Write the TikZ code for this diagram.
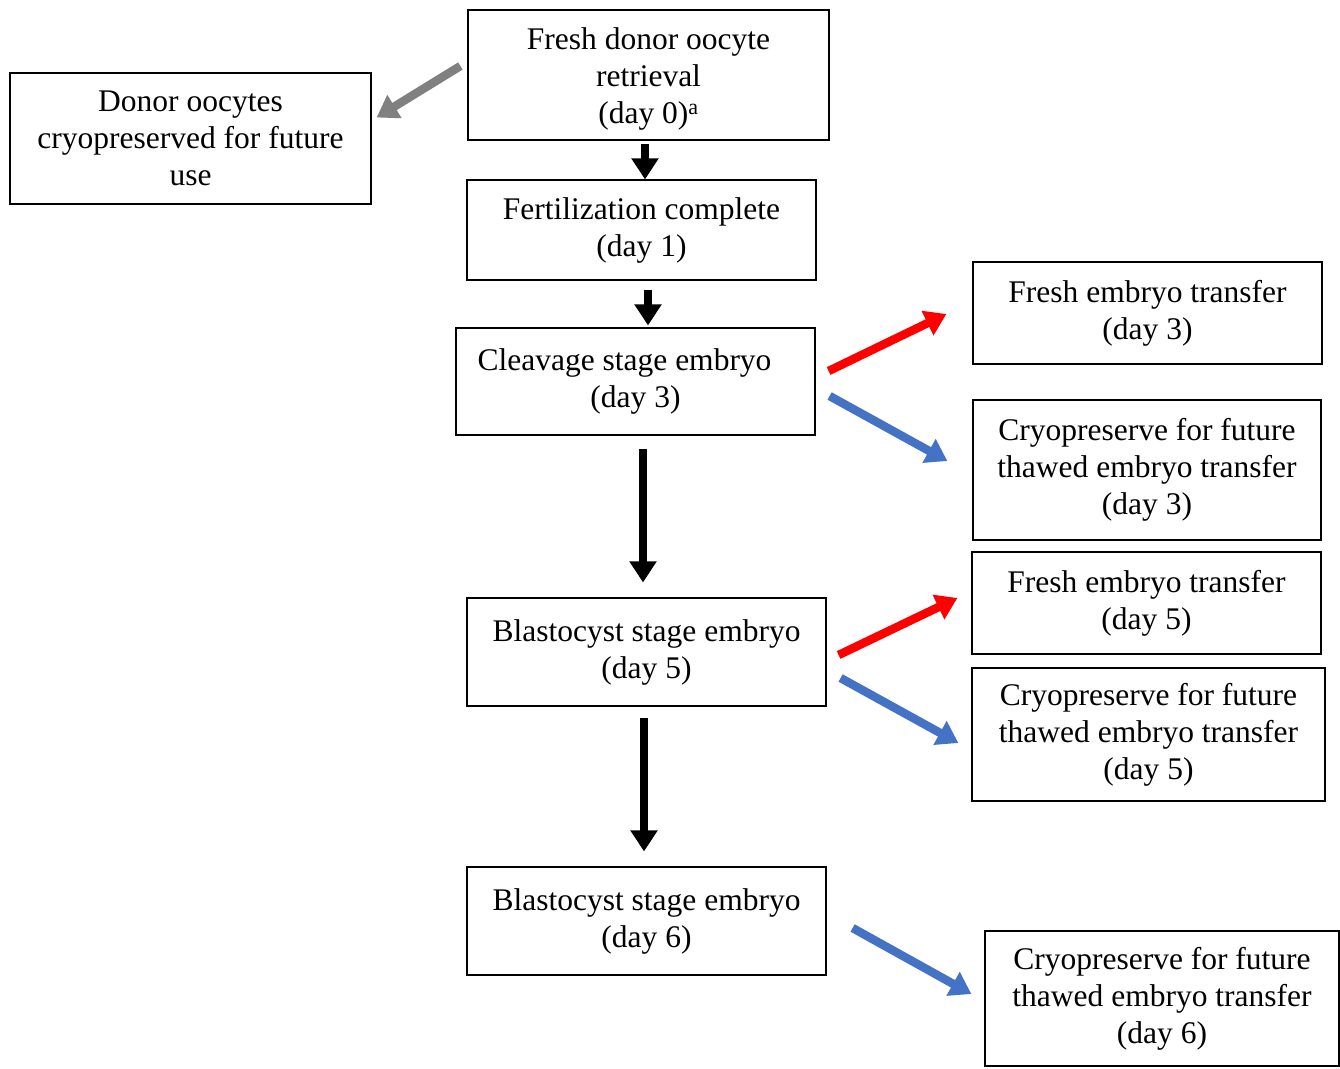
\documentclass[tikz,border=0pt]{standalone}
\usepackage{fontspec}
\setmainfont{Liberation Serif}
\usepackage{tikz}
\usetikzlibrary{arrows.meta}
\definecolor{officeblue}{RGB}{68,114,196}
\definecolor{arrowgray}{RGB}{128,128,128}
\tikzstyle{block} = [rectangle, draw, line width=1.2pt, inner sep=0pt,
    align=center, font=\fontsize{31.5}{37}\selectfont]
\tikzstyle{line} = [draw, line width=8.5pt,
    -{Triangle[length=21pt,width=26pt]}]
\tikzstyle{lineblack} = [line, black]
\tikzstyle{linered} = [line, red]
\tikzstyle{lineblue} = [line, officeblue]
\tikzstyle{linegray} = [line, arrowgray]

\begin{document}
\begin{tikzpicture}[x=1pt, y=-1pt]
    \useasboundingbox (0,0) rectangle (1340,1068);
    % Place nodes
    \node [block, minimum width=361, minimum height=130] (retrieval) at (648.5,75)
    {\rule{0pt}{30pt}Fresh donor oocyte\\retrieval\\(day 0)\textsuperscript{a}};
    \node [block, minimum width=361, minimum height=131] (oocytes) at (190.5,138.5)
    {Donor oocytes\\cryopreserved for future\\use};
    \node [block, minimum width=349, minimum height=100] (fert) at (641.5,230)
    {Fertilization complete\\(day 1)};
    \node [block, minimum width=359, minimum height=107] (cleav) at (635.5,381.5)
    {Cleavage stage embryo\hspace*{22pt}\\(day 3)};
    \node [block, minimum width=349, minimum height=102] (freshthree) at (1147.5,313)
    {Fresh embryo transfer\\(day 3)};
    \node [block, minimum width=348, minimum height=140] (cryothree) at (1147,470)
    {Cryopreserve for future\\thawed embryo transfer\\(day 3)};
    \node [block, minimum width=359, minimum height=108] (blastfive) at (646.5,652)
    {Blastocyst stage embryo\\(day 5)};
    \node [block, minimum width=349, minimum height=102] (freshfive) at (1146.5,603)
    {Fresh embryo transfer\\(day 5)};
    \node [block, minimum width=353, minimum height=133] (cryofive) at (1148.5,734.5)
    {Cryopreserve for future\\thawed embryo transfer\\(day 5)};
    \node [block, minimum width=359, minimum height=108] (blastsix) at (646.5,921)
    {Blastocyst stage embryo\\(day 6)};
    \node [block, minimum width=354, minimum height=135] (cryosix) at (1162,998.5)
    {Cryopreserve for future\\thawed embryo transfer\\(day 6)};

    % Draw edges
    \path [linegray] ([xshift=-7pt,yshift=9pt]retrieval.west) -- ([xshift=5pt,yshift=21pt]oocytes.east);
    \path [lineblack] ([xshift=-3.5pt,yshift=-3pt]retrieval.south) -- ([xshift=3.5pt]fert.north);
    \path [lineblack] ([xshift=6.5pt,yshift=-9pt]fert.south) -- ([xshift=12.5pt,yshift=2pt]cleav.north);
    \path [lineblack] ([xshift=7.5pt,yshift=-13pt]cleav.south) -- ([xshift=-3.5pt,yshift=15pt]blastfive.north);
    \path [lineblack] ([xshift=-2.5pt,yshift=-11pt]blastfive.south) -- ([xshift=-2.5pt,yshift=15pt]blastsix.north);
    \path [linered] ([xshift=13pt,yshift=10.5pt]cleav.east) -- ([xshift=-26pt,yshift=-1pt]freshthree.west);
    \path [lineblue] ([xshift=14pt,yshift=-14.5pt]cleav.east) -- ([xshift=-25pt,yshift=9pt]cryothree.west);
    \path [linered] ([xshift=12pt,yshift=-3pt]blastfive.east) -- ([xshift=-14pt,yshift=5pt]freshfive.west);
    \path [lineblue] ([xshift=14pt,yshift=-26pt]blastfive.east) -- ([xshift=-13pt,yshift=-8.5pt]cryofive.west);
    \path [lineblue] ([xshift=26pt,yshift=-7pt]blastsix.east) -- ([xshift=-13pt,yshift=4.5pt]cryosix.west);
\end{tikzpicture}
\end{document}
